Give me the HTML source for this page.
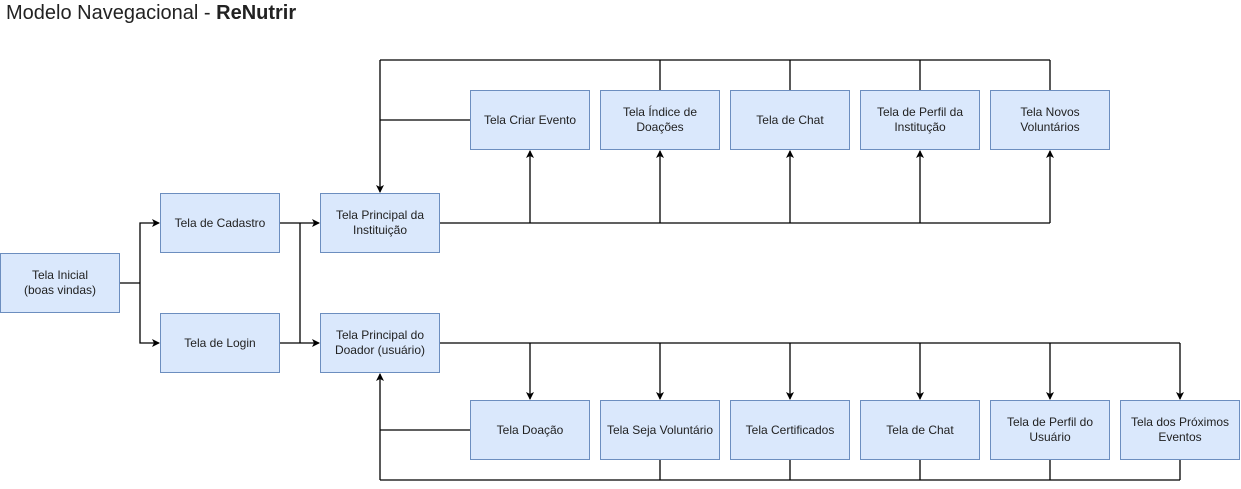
<!DOCTYPE html>
<html><head><meta charset="utf-8"><style>
body{margin:0;background:#fff;width:1241px;height:489px;overflow:hidden;font-family:"Liberation Sans",Arial,sans-serif;}
.t{position:absolute;left:6px;top:2px;font-size:20px;color:#222;}
.b{position:absolute;width:118px;height:58px;background:#dae8fc;border:1px solid #6c8ebf;display:flex;align-items:center;justify-content:center;text-align:center;font-size:12px;color:#222;line-height:15px;}
svg{position:absolute;left:0;top:0;}
</style></head><body>
<div class="t">Modelo Navegacional - <b>ReNutrir</b></div>
<svg width="1241" height="489">
<defs><marker id="a" markerWidth="8" markerHeight="8" refX="7" refY="4" orient="auto" markerUnits="userSpaceOnUse"><path d="M0,0 L8,4 L0,8 L2,4z" fill="#000"/></marker></defs>
<g stroke="#000" stroke-width="1.3" fill="none">
<path d="M120,283H140"/><path d="M140,283V223H159" marker-end="url(#a)"/><path d="M140,283V343H159" marker-end="url(#a)"/>
<path d="M280,223H319" marker-end="url(#a)"/><path d="M280,343H319" marker-end="url(#a)"/><path d="M300,223V343"/>
<path d="M440,223H1050"/>
<path d="M530,223V151" marker-end="url(#a)"/><path d="M660,223V151" marker-end="url(#a)"/><path d="M790,223V151" marker-end="url(#a)"/><path d="M920,223V151" marker-end="url(#a)"/><path d="M1050,223V151" marker-end="url(#a)"/>
<path d="M380,60H1050"/><path d="M660,60V90M790,60V90M920,60V90M1050,60V90"/>
<path d="M380,60V192" marker-end="url(#a)"/><path d="M470,120H380"/>
<path d="M440,343H1180"/>
<path d="M530,343V399" marker-end="url(#a)"/><path d="M660,343V399" marker-end="url(#a)"/><path d="M790,343V399" marker-end="url(#a)"/><path d="M920,343V399" marker-end="url(#a)"/><path d="M1050,343V399" marker-end="url(#a)"/><path d="M1180,343V399" marker-end="url(#a)"/>
<path d="M380,480H1180"/><path d="M660,460V480M790,460V480M920,460V480M1050,460V480M1180,460V480"/>
<path d="M380,480V374" marker-end="url(#a)"/><path d="M470,430H380"/>
</g></svg>
<div class="b" style="left:0;top:253px">Tela Inicial<br>(boas vindas)</div>
<div class="b" style="left:160px;top:193px">Tela de Cadastro</div>
<div class="b" style="left:160px;top:313px">Tela de Login</div>
<div class="b" style="left:320px;top:193px">Tela Principal da<br>Instituição</div>
<div class="b" style="left:320px;top:313px">Tela Principal do<br>Doador (usuário)</div>
<div class="b" style="left:470px;top:90px">Tela Criar Evento</div>
<div class="b" style="left:600px;top:90px">Tela Índice de<br>Doações</div>
<div class="b" style="left:730px;top:90px">Tela de Chat</div>
<div class="b" style="left:860px;top:90px">Tela de Perfil da<br>Institução</div>
<div class="b" style="left:990px;top:90px">Tela Novos<br>Voluntários</div>
<div class="b" style="left:470px;top:400px">Tela Doação</div>
<div class="b" style="left:600px;top:400px">Tela Seja Voluntário</div>
<div class="b" style="left:730px;top:400px">Tela Certificados</div>
<div class="b" style="left:860px;top:400px">Tela de Chat</div>
<div class="b" style="left:990px;top:400px">Tela de Perfil do<br>Usuário</div>
<div class="b" style="left:1120px;top:400px">Tela dos Próximos<br>Eventos</div>
</body></html>
